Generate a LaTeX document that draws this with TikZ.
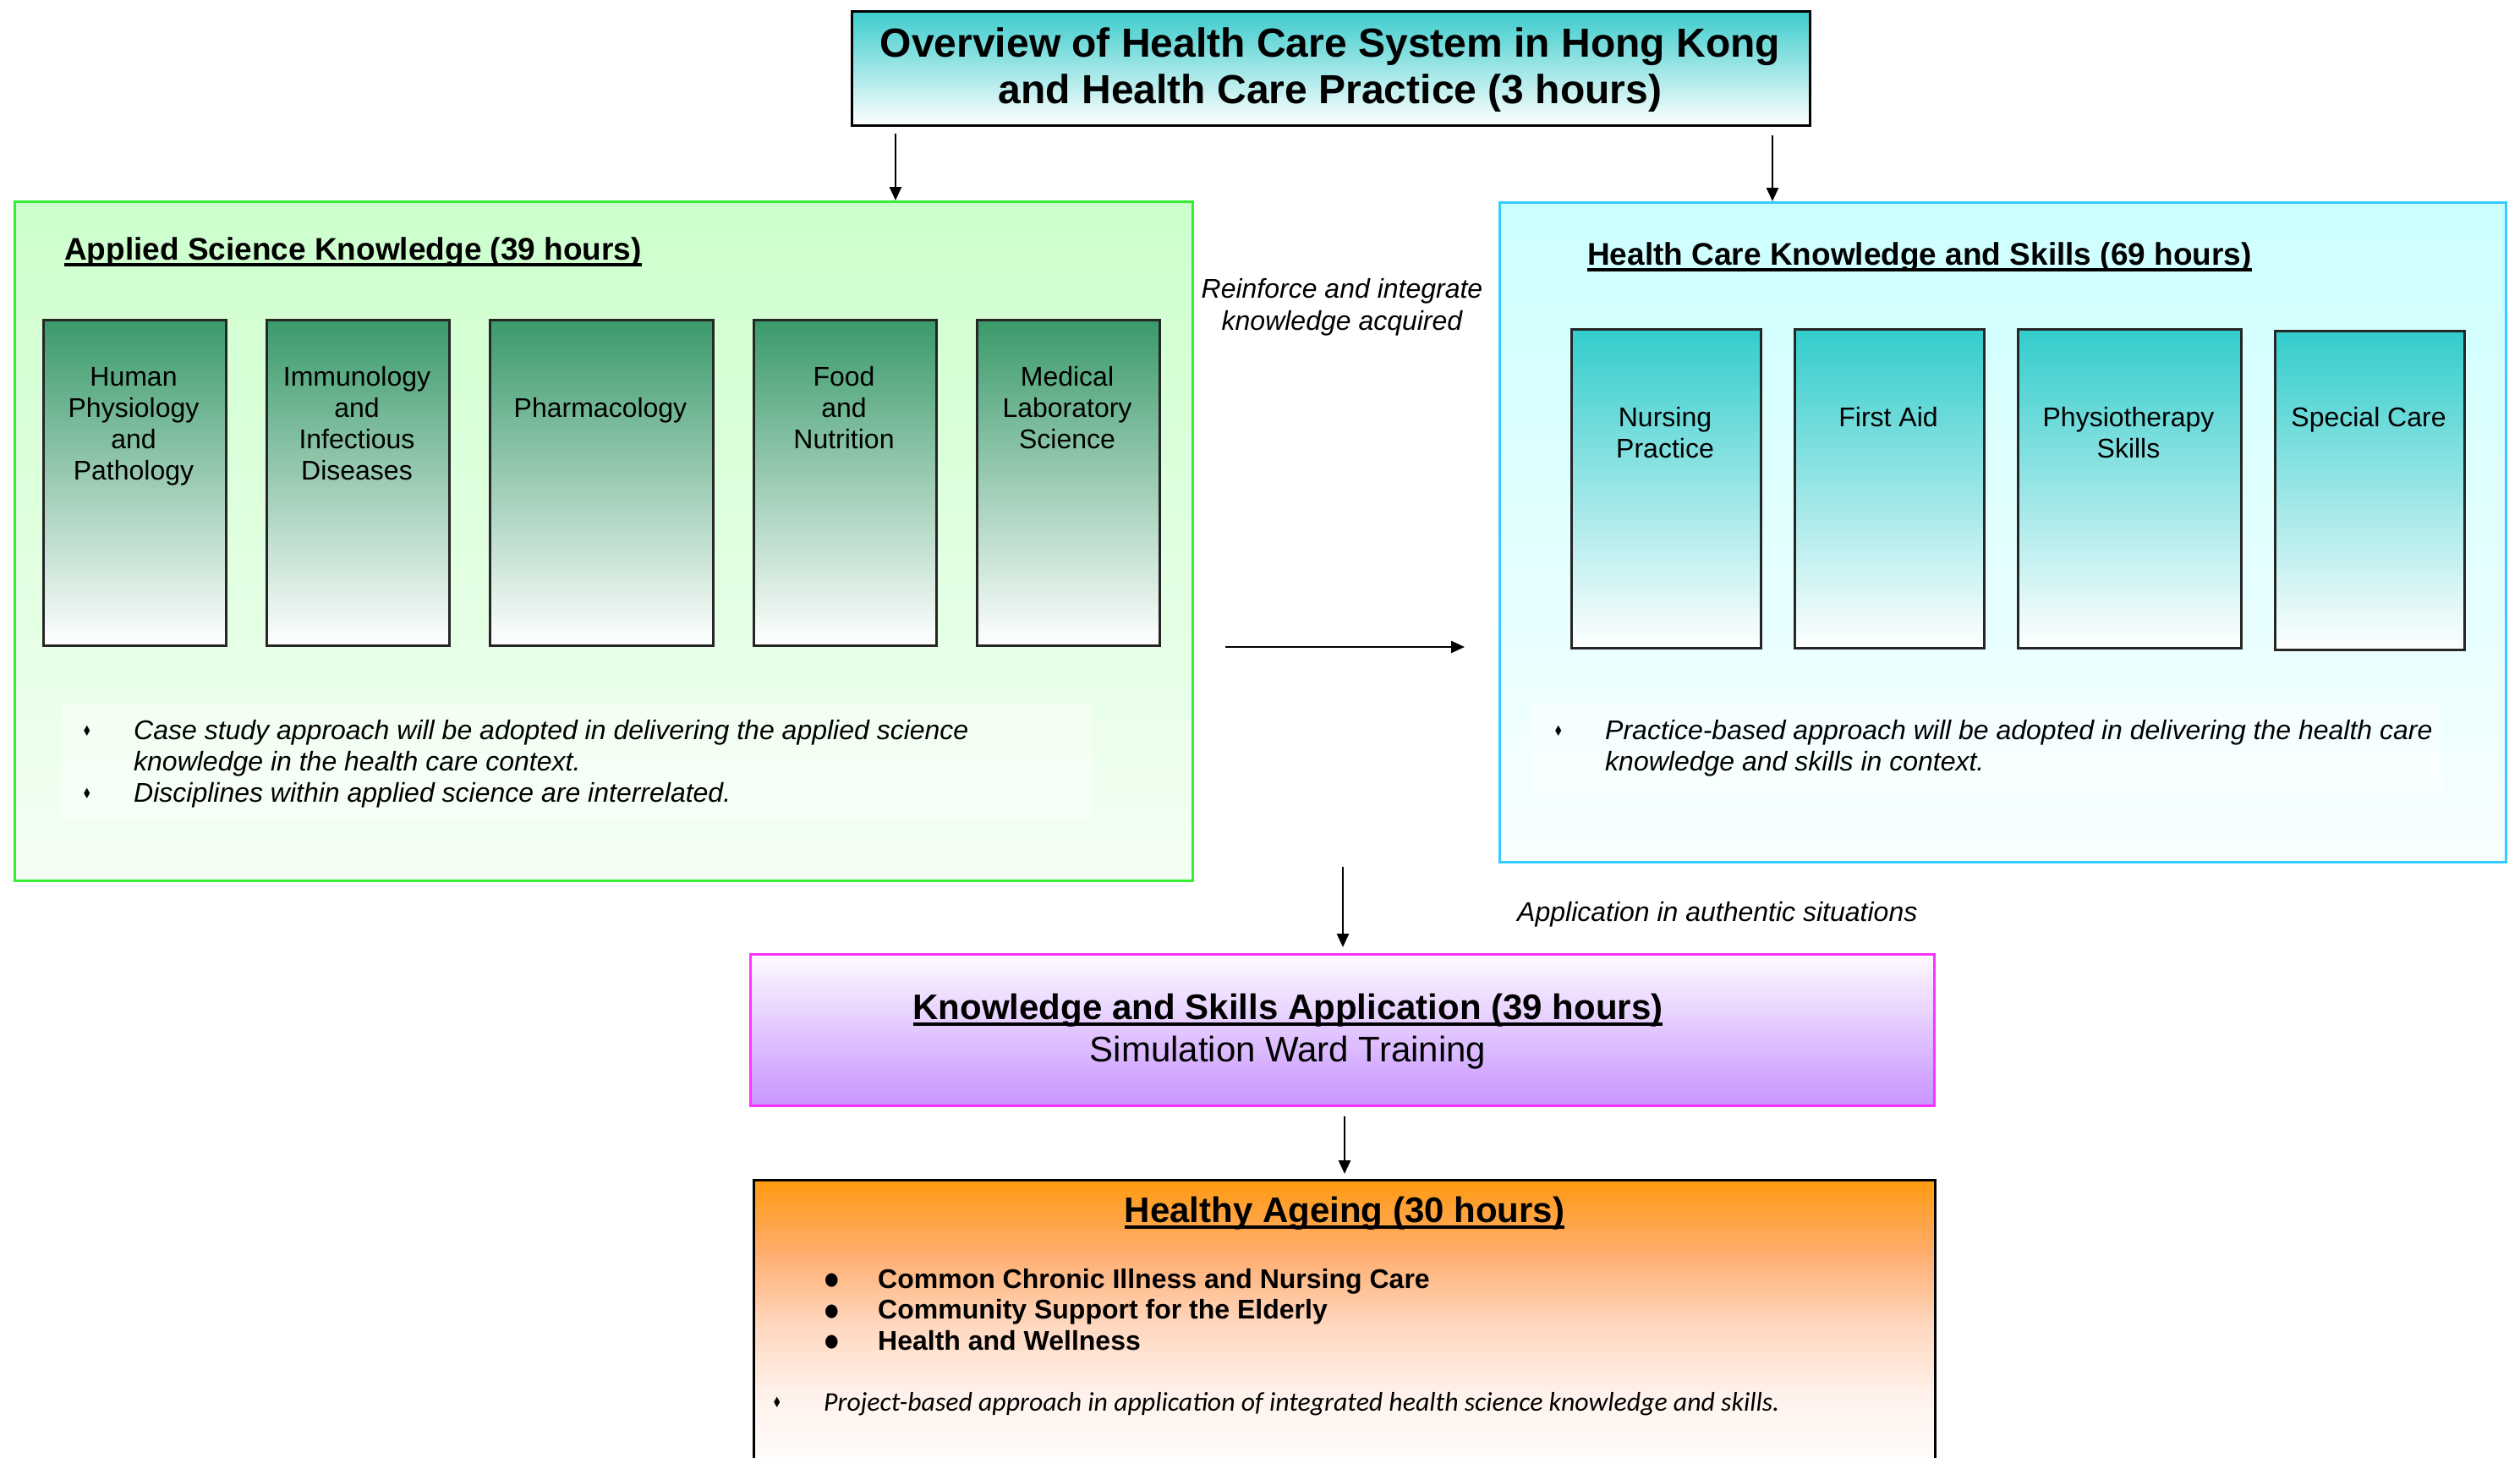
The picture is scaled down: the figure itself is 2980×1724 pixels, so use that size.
\documentclass[tikz,border=0pt]{standalone}
\usepackage{fontspec}
\setmainfont{Liberation Sans}
\newfontfamily\carlito{Carlito}
\newfontfamily\dejavu{DejaVu Sans}
\usetikzlibrary{arrows.meta,calc}
\newsavebox{\myulbox}
\newcommand{\myul}[1]{\sbox{\myulbox}{#1}\rlap{\rule[-8pt]{\wd\myulbox}{4.5pt}}\usebox{\myulbox}}
\definecolor{gcont}{HTML}{CCFFCC}
\definecolor{gcontb}{HTML}{F4FFF4}
\definecolor{gline}{HTML}{33EE33}
\definecolor{ccont}{HTML}{CCFFFF}
\definecolor{ccontb}{HTML}{F8FFFF}
\definecolor{cline}{HTML}{33CCFF}
\definecolor{gsub}{HTML}{3A9A6A}
\definecolor{csub}{HTML}{33CCCC}
\definecolor{ttop}{HTML}{3DCCCC}
\definecolor{mtop}{HTML}{FDFAFF}
\definecolor{mbot}{HTML}{C894FF}
\definecolor{mline}{HTML}{FF33FF}
\definecolor{otop}{HTML}{FF9A10}
\definecolor{o75}{HTML}{FFAC6C}
\definecolor{omid}{HTML}{FFD6BC}
\definecolor{o25}{HTML}{FFF1EA}
\definecolor{obot}{HTML}{FFFDFC}
\pgfdeclareverticalshading{orangesh}{100bp}{color(0bp)=(obot); color(25bp)=(obot); color(37.5bp)=(o25); color(50bp)=(omid); color(62.5bp)=(o75); color(75bp)=(otop); color(100bp)=(otop)}
\newcommand{\dmd}{{\dejavu\upshape\fontsize{17}{17}\selectfont\raisebox{4pt}{\scalebox{0.75}[1]{♦}}}}
\newcommand{\dotb}{{\dejavu\mdseries\fontsize{20}{20}\selectfont\raisebox{3.5pt}{\scalebox{0.95}[1.05]{●}}}}
\begin{document}
\begin{tikzpicture}[x=1pt,y=-1pt,
  arr/.style={line width=2.6pt,-{Triangle[length=16pt,width=14pt]}},
  frame/.style={rectangle,inner sep=0pt,anchor=north west,line width=3pt},
  subg/.style={rectangle,inner sep=0pt,anchor=north west,draw=black!85,line width=2.5pt,top color=gsub,bottom color=white,minimum height=385pt},
  subc/.style={rectangle,inner sep=0pt,anchor=north west,draw=black!85,line width=2.5pt,top color=csub,bottom color=white,minimum height=377pt},
  subtext/.style={inner sep=0pt,anchor=base,font=\fontsize{32}{37}\selectfont},
  heading/.style={inner sep=0pt,anchor=base west,font=\bfseries\fontsize{37}{44}\selectfont},
  note/.style={inner sep=0pt,anchor=base west,font=\itshape\fontsize{32}{37}\selectfont},
  notebg/.style={rectangle,inner sep=0pt,anchor=north west,fill=white,fill opacity=0.45,draw=none}
]
\useasboundingbox (0,0) rectangle (2980,1724);
\fill[white] (0,0) rectangle (2980,1724);

% title
\node[frame,draw=black,top color=ttop,bottom color=white,minimum width=1133pt,minimum height=135pt] (title) at (1006,12) {};
\node[inner sep=0pt,anchor=base,font=\bfseries\fontsize{48}{55}\selectfont] (titletext) at (1573,67)
  {\begin{tabular}[t]{@{}c@{}}Overview of Health Care System in Hong Kong\\and Health Care Practice (3 hours)\end{tabular}};

% applied science container
\node[frame,draw=gline,top color=gcont,bottom color=gcontb,minimum width=1393pt,minimum height=803pt] (asci) at (16,237) {};
\node[heading] (ascihd) at (76,307) {\myul{Applied Science Knowledge (39 hours)}};
\node[subg,minimum width=216pt] (g1) at (50,377) {};
\node[subg,minimum width=216pt] (g2) at (314,377) {};
\node[subg,minimum width=264pt] (g3) at (578,377) {};
\node[subg,minimum width=216pt] (g4) at (890,377) {};
\node[subg,minimum width=216pt] (g5) at (1154,377) {};
\node[subtext] (g1t) at (158,456) {\begin{tabular}[t]{@{}c@{}}Human\\Physiology\\and\\Pathology\end{tabular}};
\node[subtext] (g2t) at (422,456) {\begin{tabular}[t]{@{}c@{}}Immunology\\and\\Infectious\\Diseases\end{tabular}};
\node[subtext] (g3t) at (710,493) {Pharmacology};
\node[subtext] (g4t) at (998,456) {\begin{tabular}[t]{@{}c@{}}Food\\and\\Nutrition\end{tabular}};
\node[subtext] (g5t) at (1262,456) {\begin{tabular}[t]{@{}c@{}}Medical\\Laboratory\\Science\end{tabular}};
\node[notebg,minimum width=1219pt,minimum height=139pt] (gnotebg) at (72,832) {};
\node[note] (gnote) at (97,874) {\begin{tabular}[t]{@{}p{61pt}@{}l@{}}\dmd & Case study approach will be adopted in delivering the applied science\\
 & knowledge in the health care context.\\
\dmd & Disciplines within applied science are interrelated.\end{tabular}};

% health care container
\node[frame,draw=cline,top color=ccont,bottom color=ccontb,minimum width=1190pt,minimum height=780pt] (hcks) at (1772,238) {};
\node[heading] (hckshd) at (1877,313) {\myul{Health Care Knowledge and Skills (69 hours)}};
\node[subc,minimum width=224pt] (c1) at (1857,388) {};
\node[subc,minimum width=224pt] (c2) at (2121,388) {};
\node[subc,minimum width=264pt] (c3) at (2385,388) {};
\node[subc,minimum width=224pt] (c4) at (2689,390) {};
\node[subtext] (c1t) at (1969,504) {\begin{tabular}[t]{@{}c@{}}Nursing\\Practice\end{tabular}};
\node[subtext] (c2t) at (2233,504) {First Aid};
\node[subtext] (c3t) at (2517,504) {\begin{tabular}[t]{@{}c@{}}Physiotherapy\\Skills\end{tabular}};
\node[subtext] (c4t) at (2801,504) {Special Care};
\node[notebg,minimum width=1077pt,minimum height=112pt] (cnotebg) at (1811,833) {};
\node[note] (cnote) at (1837,874) {\begin{tabular}[t]{@{}p{61pt}@{}l@{}}\dmd & Practice-based approach will be adopted in delivering the health care\\
 & knowledge and skills in context.\end{tabular}};

% middle labels
\node[inner sep=0pt,anchor=base,font=\itshape\fontsize{32}{38}\selectfont] (reinf) at (1587,352)
  {\begin{tabular}[t]{@{}c@{}}Reinforce and integrate\\knowledge acquired\end{tabular}};
\node[note] (appl) at (1794,1089) {Application in authentic situations};

% knowledge and skills application
\node[frame,draw=mline,top color=mtop,bottom color=mbot,minimum width=1400pt,minimum height=179pt] (ksa) at (886,1127) {};
\node[inner sep=0pt,anchor=base,font=\fontsize{42}{50}\selectfont] (ksat) at (1523,1205)
  {\begin{tabular}[t]{@{}c@{}}\myul{\textbf{Knowledge and Skills Application (39 hours)}}\\Simulation Ward Training\end{tabular}};

% healthy ageing
\node[frame,draw=black,shade,shading=orangesh,minimum width=1397pt,minimum height=335pt] (ha) at (890,1394) {};
\node[inner sep=0pt,anchor=base,font=\bfseries\fontsize{42}{50}\selectfont] (hat) at (1590,1445) {\myul{Healthy Ageing (30 hours)}};
\node[inner sep=0pt,anchor=base west,font=\bfseries\fontsize{32}{36.5}\selectfont] (halist) at (975,1523)
  {\begin{tabular}[t]{@{}p{63pt}@{}l@{}}\dotb & Common Chronic Illness and Nursing Care\\
  \dotb & Community Support for the Elderly\\
  \dotb & Health and Wellness\end{tabular}};
\node[inner sep=0pt,anchor=base west,font=\carlito\itshape\fontsize{31.8}{37}\selectfont] (hanote) at (913,1668)
  {\begin{tabular}[t]{@{}p{61pt}@{}l@{}}\dmd & Project-based approach in application of integrated health science knowledge and skills.\end{tabular}};

% connectors
\coordinate (a1) at ($(title.south west)+(53,8)$);
\coordinate (a2) at ($(title.south west)+(1090,10)$);
\draw[arr] (a1) -- (a1 |- asci.north);
\draw[arr] (a2) -- (a2 |- hcks.north);
\coordinate (h1) at (1449,765);
\draw[arr,shorten >=40pt] (h1) -- (h1 -| hcks.west);
\coordinate (v1) at (1588,1025);
\draw[arr,shorten >=7pt] (v1) -- (v1 |- ksa.north);
\draw[arr,shorten <=11pt,shorten >=6pt] (ha.north |- ksa.south) -- (ha.north);
\end{tikzpicture}
\end{document}
